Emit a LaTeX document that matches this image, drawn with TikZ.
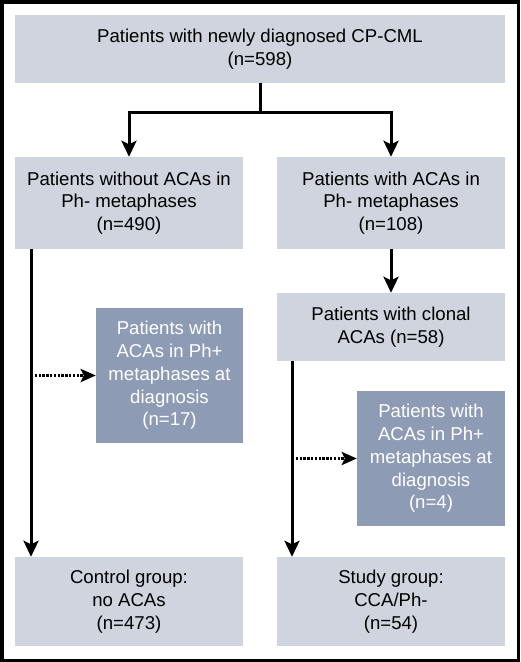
\documentclass[tikz,border=0pt]{standalone}
\usepackage{fontspec}
\setmainfont{Liberation Sans}
\usetikzlibrary{arrows.meta}
\definecolor{lightbox}{HTML}{CFD4DE}
\definecolor{darkbox}{HTML}{8E9BB5}
\tikzset{
  lbox/.style={fill=lightbox, draw=none, inner sep=0pt, align=center,
    font=\fontsize{18.6}{22.7}\selectfont, text=black},
  dbox/.style={fill=darkbox, draw=none, inner sep=0pt, align=center,
    font=\fontsize{18.6}{22.7}\selectfont, text=white},
  arr/.style={line width=3pt, -{Stealth[length=16pt, width=15pt, inset=3.5pt]}},
  plainline/.style={line width=3pt},
  dotarr/.style={line width=3.4pt, dash pattern=on 2.4pt off 1.4pt, -{Stealth[length=15pt, width=13pt, inset=3pt]}},
}
\begin{document}
\begin{tikzpicture}[x=1pt, y=-1pt]
\useasboundingbox (0,0) rectangle (520,662);
\fill[white] (0,0) rectangle (520,662);
\draw[line width=3.5pt] (1.75,1.75) rectangle (518.25,660.25);
\node[lbox, minimum width=490pt, minimum height=68pt] (top) at (260,49) {Patients with newly diagnosed CP-CML\\(n=598)};
\node[lbox, minimum width=228pt, minimum height=92pt] (l1) at (129,203) {Patients without ACAs in\\Ph- metaphases\\(n=490)};
\node[lbox, minimum width=228pt, minimum height=92pt] (r1) at (391,203) {Patients with ACAs in\\Ph- metaphases\\(n=108)};
\node[lbox, minimum width=228pt, minimum height=68pt] (r2) at (391,327) {Patients with clonal\\ACAs (n=58)};
\node[dbox, minimum width=147pt, minimum height=135pt] (dl) at (169.5,375.5) {Patients with\\ACAs in Ph+\\metaphases at\\diagnosis\\(n=17)};
\node[dbox, minimum width=148pt, minimum height=135pt] (dr) at (431,458.5) {Patients with\\ACAs in Ph+\\metaphases at\\diagnosis\\(n=4)};
\node[lbox, minimum width=228pt, minimum height=89pt] (bl) at (129,601.5) {Control group:\\no ACAs\\(n=473)};
\node[lbox, minimum width=228pt, minimum height=89pt] (br) at (391,601.5) {Study group:\\CCA/Ph-\\(n=54)};
\coordinate (split) at (260,112);
\coordinate (lx) at (31,0);
\coordinate (rx) at (292,0);
\draw[plainline] (top.south) -- (split);
\draw[arr] (split) -| (l1.north);
\draw[arr] (split) -| (r1.north);
\draw[arr] (r1.south) -- (r2.north);
\draw[arr] (l1.south -| lx) -- (bl.north -| lx);
\draw[arr] (r2.south -| rx) -- (br.north -| rx);
\draw[dotarr] (dl.west -| lx) -- (dl.west);
\draw[dotarr] (dr.west -| rx) -- (dr.west);
\end{tikzpicture}
\end{document}
